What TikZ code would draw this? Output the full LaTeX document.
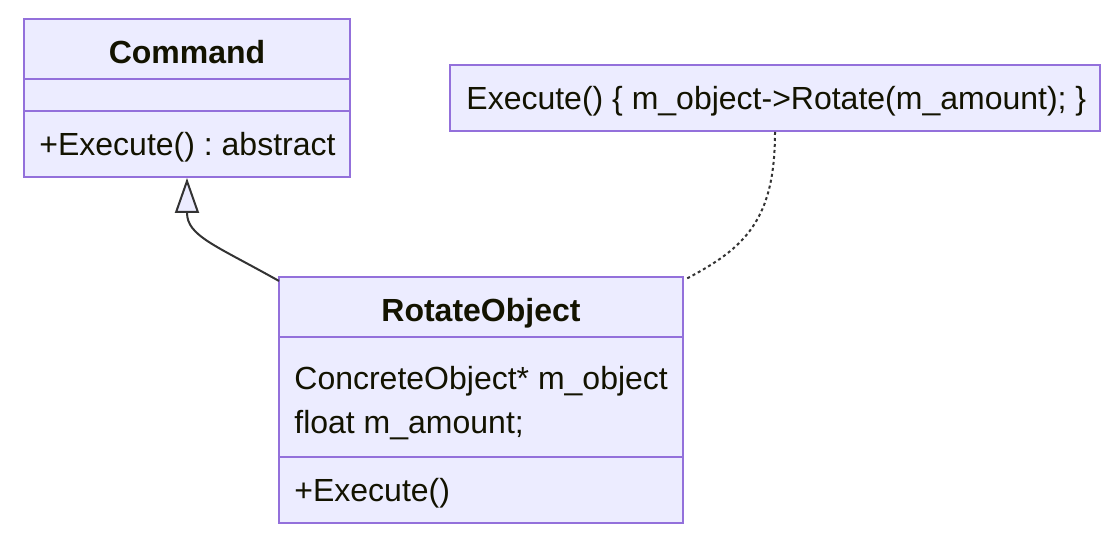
\documentclass[tikz,border=0pt]{standalone}
\usepackage{fontspec}
\setmainfont{Liberation Sans}
\usetikzlibrary{arrows.meta}
\frenchspacing
\definecolor{boxfill}{HTML}{ECECFF}
\definecolor{boxline}{HTML}{9370DB}
\definecolor{edge}{HTML}{333333}
\definecolor{txt}{HTML}{131300}
\tikzset{
  umlbox/.style={draw=boxline, fill=boxfill, line width=1pt, rectangle, inner sep=0pt},
  divider/.style={draw=boxline, line width=1pt},
  lbl/.style={anchor=base west, inner sep=0pt, text=txt, font=\fontsize{16}{19}\selectfont},
  ttl/.style={anchor=base, inner sep=0pt, text=txt, font=\fontsize{16}{19}\selectfont\bfseries},
  inherit/.style={draw=edge, line width=1pt, -{Triangle[length=17.5pt, width=12pt, fill=boxfill]}},
  notelink/.style={draw=edge, line width=1pt, dash pattern=on 1.5pt off 1.5pt},
}
\begin{document}
\begin{tikzpicture}[x=0.5pt, y=-0.5pt]
\useasboundingbox (0,0) rectangle (1119,539);
% Command
\node[umlbox, minimum width=163pt, minimum height=79pt] (cmd) at (187,98) {};
\coordinate (cmdA) at (24,79);
\coordinate (cmdB) at (350,79);
\coordinate (cmdC) at (24,111);
\coordinate (cmdD) at (350,111);
\draw[divider] (cmdA) -- (cmdB);
\draw[divider] (cmdC) -- (cmdD);
\node[ttl] (cmdT) at (187,63.5) {Command};
\node[lbl] (cmdM) at (39,155.5) {+Execute() : abstract};
% Note
\node[umlbox, minimum width=325pt, minimum height=33pt] (note) at (775,98) {};
\node[lbl] (noteT) at (466,109.5) {Execute() \{ m\_object->Rotate(m\_amount); \}};
% RotateObject
\node[umlbox, minimum width=202pt, minimum height=123pt] (rot) at (481,400) {};
\coordinate (rotA) at (279,337);
\coordinate (rotB) at (683,337);
\coordinate (rotC) at (279,457);
\coordinate (rotD) at (683,457);
\draw[divider] (rotA) -- (rotB);
\draw[divider] (rotC) -- (rotD);
\node[ttl] (rotT) at (481,321.5) {RotateObject};
\node[lbl] (rotA1) at (294,389.5) {ConcreteObject* m\_object};
\node[lbl] (rotA2) at (294,433.5) {float m\_amount;};
\node[lbl] (rotM) at (294,501.5) {+Execute()};
% connectors
\coordinate (inhStart) at (279,281);
\draw[inherit] (inhStart) .. controls (215,245) and (187,236) .. (cmd.south);
\coordinate (noteEnd) at (686,279);
\draw[notelink] (note.south) .. controls (775,220) and (745,248) .. (noteEnd);
\end{tikzpicture}
\end{document}
